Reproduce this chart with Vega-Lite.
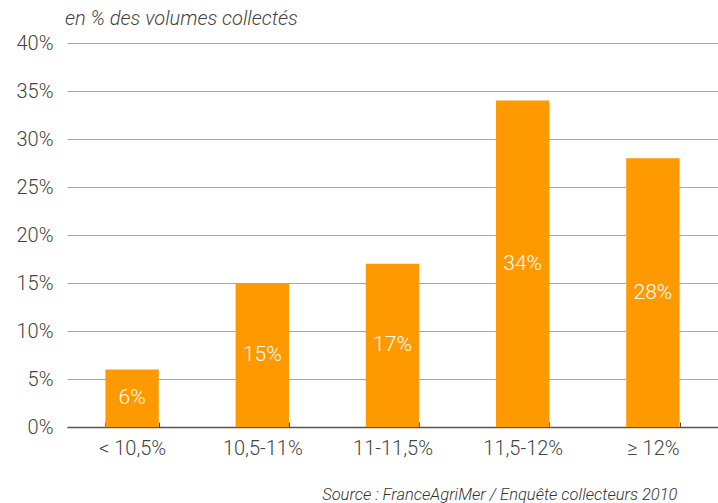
{
  "$schema": "https://vega.github.io/schema/vega-lite/v6.json",
  "width": 651,
  "height": 384,
  "autosize": {"type": "none"},
  "padding": {"left": 67, "top": 43, "right": 0, "bottom": 76},
  "background": "white",
  "config": {
    "view": {"stroke": null},
    "font": "Roboto",
    "text": {"font": "Roboto"}
  },
  "title": {
    "text": "en % des volumes collectés",
    "anchor": "start",
    "frame": "group",
    "fontSize": 20,
    "fontStyle": "italic",
    "fontWeight": 300,
    "color": "#444444",
    "offset": 4,
    "dx": -2
  },
  "data": {
    "values": [
      {"categorie": "< 10,5%", "valeur": 6, "etiquette": "6%"},
      {"categorie": "10,5-11%", "valeur": 15, "etiquette": "15%"},
      {"categorie": "11-11,5%", "valeur": 17, "etiquette": "17%"},
      {"categorie": "11,5-12%", "valeur": 34, "etiquette": "34%"},
      {"categorie": "≥ 12%", "valeur": 28, "etiquette": "28%"}
    ]
  },
  "transform": [{"calculate": "datum.valeur / 2", "as": "milieu"}],
  "encoding": {
    "x": {
      "field": "categorie",
      "type": "nominal",
      "sort": null,
      "scale": {"paddingInner": 0.59, "paddingOuter": 0.295},
      "axis": {
        "title": "Source : FranceAgriMer / Enquête collecteurs 2010",
        "titleFontSize": 16.5,
        "titleFontStyle": "italic",
        "titleFontWeight": 300,
        "titleColor": "#333333",
        "titleAnchor": "end",
        "titleAlign": "right",
        "titleX": 610,
        "titlePadding": 28,
        "labelAngle": 0,
        "labelFontSize": 20,
        "labelFontWeight": 300,
        "labelColor": "#444444",
        "labelPadding": 16,
        "domainColor": "#555555",
        "domainWidth": 1.5,
        "tickBand": "extent",
        "tickColor": "#444444",
        "tickSize": -5,
        "grid": false
      }
    }
  },
  "layer": [
    {
      "mark": {"type": "bar", "color": "#FF9900"},
      "encoding": {
        "y": {
          "field": "valeur",
          "type": "quantitative",
          "scale": {"domain": [0, 40]},
          "axis": {
            "title": null,
            "values": [0, 5, 10, 15, 20, 25, 30, 35, 40],
            "labelExpr": "datum.value + '%'",
            "labelFontSize": 20,
            "labelFontWeight": 300,
            "labelColor": "#444444",
            "labelPadding": 14,
            "domain": false,
            "ticks": false,
            "gridColor": "#a6a6a6",
            "gridWidth": 1
          }
        }
      }
    },
    {
      "mark": {"type": "text", "color": "white", "fontSize": 21, "fontWeight": 300, "baseline": "middle", "align": "center"},
      "encoding": {
        "y": {"field": "milieu", "type": "quantitative"},
        "text": {"field": "etiquette", "type": "nominal"}
      }
    }
  ]
}
